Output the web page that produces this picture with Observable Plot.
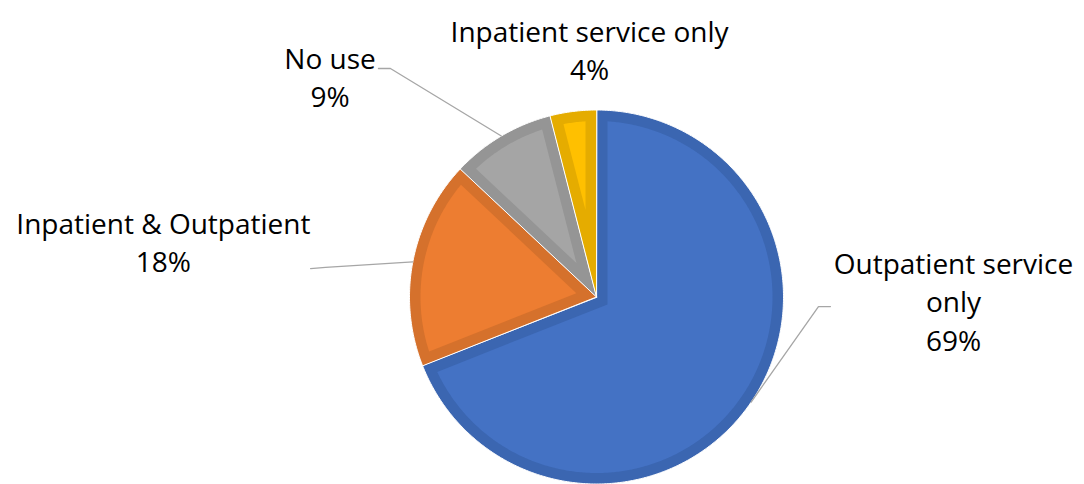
<!DOCTYPE html>
<html>
<head>
<meta charset="utf-8">
<script src="https://cdn.jsdelivr.net/npm/d3@7"></script>
<script src="https://cdn.jsdelivr.net/npm/@observablehq/plot@0.6"></script>
<style>
  html, body { margin: 0; padding: 0; background: #ffffff; }
  svg { display: block; }
</style>
</head>
<body>
<div id="chart"></div>
<script>
// ---- data ----
const categories = ["Outpatient service only", "Inpatient & Outpatient", "No use", "Inpatient service only"];
const values = [69, 18, 9, 4];
const labelNames = ["Outpatient service\nonly", "Inpatient & Outpatient", "No use", "Inpatient service only"];
const fillColors = ["#4472C4", "#ED7D31", "#A5A5A5", "#FFC000"];
const borderColors = ["#3B66B1", "#D5712C", "#959595", "#E5AC00"];

// ---- layout (radius units, relative to pie centre, y up) ----
const W = 1084, H = 484, CX = 596, CY = 296.5, R = 187, BORDER = 11;
const labelPos = [[1.909, 0.270], [-2.316, 0.484], [-1.425, 1.366], [-0.037, 1.512]];
const leaderStubs = [
  [[1.251, -0.051], [1.187, -0.051]],
  [[-1.529, 0.152], [-1.449, 0.158]],
  [[-1.166, 1.222], [-1.102, 1.222]],
  null
];

const total = d3.sum(values);
let acc = 0;
const slices = values.map((v, i) => {
  const a0 = acc / total * 2 * Math.PI;
  acc += v;
  const a1 = acc / total * 2 * Math.PI;
  return {i, a0, a1, mid: (a0 + a1) / 2};
});
const pt = (a, r) => ({x: r * Math.sin(a), y: r * Math.cos(a)});
function arcPts(a0, a1, r) {
  const n = Math.max(2, Math.ceil((a1 - a0) / (Math.PI / 360)));
  return d3.range(n + 1).map(k => pt(a0 + (a1 - a0) * k / n, r));
}

const outerRows = [], innerRows = [];
const w = BORDER / R, ri = 1 - w, del = Math.asin(w / ri);
for (const s of slices) {
  const key = categories[s.i];
  [{x: 0, y: 0}, ...arcPts(s.a0, s.a1, 1)].forEach(p => outerRows.push({...p, key, color: borderColors[s.i]}));
  const d = w / Math.sin((s.a1 - s.a0) / 2);
  [pt(s.mid, d), ...arcPts(s.a0 + del, s.a1 - del, ri)].forEach(p => innerRows.push({...p, key, color: fillColors[s.i]}));
}

const leaderRows = [];
slices.forEach(s => {
  const stub = leaderStubs[s.i];
  if (!stub) return;
  const key = categories[s.i];
  stub.forEach(([x, y]) => leaderRows.push({x, y, key}));
  const e = pt(s.mid, 1);
  leaderRows.push({...e, key});
});

const labels = slices.map(s => ({
  x: labelPos[s.i][0],
  y: labelPos[s.i][1],
  text: labelNames[s.i] + "\n" + Math.round(values[s.i] / total * 100) + "%"
}));

const chart = Plot.plot({
  width: W,
  height: H,
  margin: 0,
  x: {domain: [-CX / R, (W - CX) / R], axis: null},
  y: {domain: [-(H - CY) / R, CY / R], axis: null},
  color: {type: "identity"},
  style: {fontFamily: "'Open Sans', sans-serif", background: "#ffffff"},
  marks: [
    Plot.line(outerRows, {x: "x", y: "y", z: "key", fill: "color", stroke: "#ffffff", strokeWidth: 1, curve: "linear-closed"}),
    Plot.line(innerRows, {x: "x", y: "y", z: "key", fill: "color", stroke: "none", curve: "linear-closed"}),
    Plot.line(leaderRows, {x: "x", y: "y", z: "key", stroke: "#A6A6A6", strokeWidth: 1.3}),
    Plot.text(labels, {x: "x", y: "y", text: "text", lineAnchor: "top", lineHeight: 1.375, fontSize: 28, fill: "#000000", textAnchor: "middle"})
  ]
});
document.getElementById("chart").appendChild(chart);
</script>
</body>
</html>
